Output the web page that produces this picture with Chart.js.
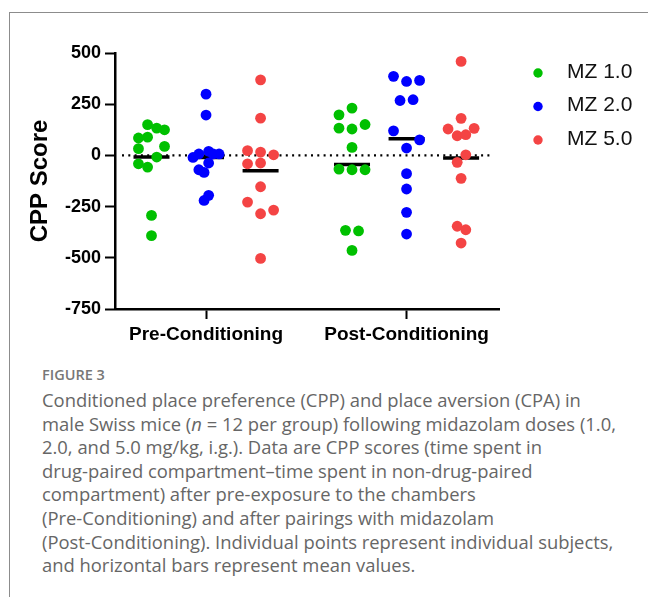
<!DOCTYPE html>
<html>
<head>
<meta charset="utf-8">
<script src="https://cdn.jsdelivr.net/npm/chart.js@4.4.1/dist/chart.umd.min.js"></script>
<style>
    body {
        margin: 0;
        background: #fff;
        width: 648px;
        height: 597px;
        overflow: hidden;
        position: relative;
    }
    #frame {
        position: absolute;
        left: 9px;
        top: 12px;
        width: 700px;
        height: 700px;
        border-left: 1px solid #8c8c8c;
        border-top: 1px solid #8c8c8c;
    }
    #wrap {
        position: absolute;
        left: 0;
        top: 0;
        width: 648px;
        height: 360px;
    }
    #caption {
        position: absolute;
        left: 42px;
        top: 364px;
        width: 606px;
        font-family: "Open Sans", "Noto Sans", sans-serif;
        color: #666;
        white-space: nowrap;
    }
    #caption .fig {
        font-size: 14.5px;
        font-weight: 600;
        line-height: 22px;
        color: #777;
    }
    #caption .text {
        font-size: 18.4px;
        line-height: 23.6px;
        margin-top: 2px;
    }
</style>
</head>
<body>
<div id="frame"></div>
<div id="wrap"><canvas id="cppChart"></canvas></div>
<div id="caption">
    <div class="fig">FIGURE 3</div>
    <div class="text">Conditioned place preference (CPP) and place aversion (CPA) in<br>male Swiss mice (<i>n</i> = 12 per group) following midazolam doses (1.0,<br>2.0, and 5.0 mg/kg, i.g.). Data are CPP scores (time spent in<br>drug-paired compartment–time spent in non-drug-paired<br>compartment) after pre-exposure to the chambers<br>(Pre-Conditioning) and after pairings with midazolam<br>(Post-Conditioning). Individual points represent individual subjects,<br>and horizontal bars represent mean values.</div>
</div>
<script>
// kategori dan nama seri
const categories = ["Pre-Conditioning", "Post-Conditioning"];
const seriesNames = ["MZ 1.0", "MZ 2.0", "MZ 5.0"];
const seriesColors = ["#00c000", "#0000ff", "#f44444"];

// skor CPP per tikus
const mz1Pre = [150, 133, 125, 85, 89, 33, 44, -8, -41, -57, -293, -392];
const mz2Pre = [299, 197, -10, 7, 20, 7, 7, -37, -70, -83, -195, -220];
const mz5Pre = [369, 182, 23, 16, 3, -41, -37, -153, -228, -267, -285, -503];
const mz1Post = [231, 198, 133, 129, 151, 39, -67, -70, -70, -366, -369, -464];
const mz2Post = [386, 361, 366, 268, 272, 120, 76, 36, -89, -164, -278, -384];
const mz5Post = [459, 181, 129, 132, 96, 101, 3, -34, -112, -346, -363, -428];

// geseran horizontal tiap titik (satuan lebar sebaran)
const mz1PreShift = [-0.3, 0.4, 1, -1, -0.3, -1, 1, 0.4, -1, -0.3, 0, 0];
const mz2PreShift = [0, 0, -1, -0.55, 0.2, 0.55, 1, 0.2, -0.55, -0.15, 0.2, -0.15];
const mz5PreShift = [0, 0, -1, 0, 1, -1, 0, 0, -1, 1, 0, 0];
const mz1PostShift = [0, -1, -1, 0, 1, 0, -1, 0, 1, -0.5, 0.5, 0];
const mz2PostShift = [-1, 0, 1, -0.5, 0.5, -1, 1, 0, 0, 0, 0, 0];
const mz5PostShift = [0, 0, -1, 1, -0.3, 0.36, 0.36, -0.3, 0, -0.3, 0.36, 0];

// nilai rata-rata (garis hitam)
const meansPre = [-8, -10, -75];
const meansPost = [-44, 81, -13];

const spread = 0.065;
const groupGap = 0.272;

const preValues = [mz1Pre, mz2Pre, mz5Pre];
const postValues = [mz1Post, mz2Post, mz5Post];
const preShifts = [mz1PreShift, mz2PreShift, mz5PreShift];
const postShifts = [mz1PostShift, mz2PostShift, mz5PostShift];

const toPoints = (values, shifts, center) =>
    values.map((v, i) => ({ x: center + shifts[i] * spread, y: v }));

const datasets = seriesNames.map((name, s) => {
    const off = (s - 1) * groupGap;
    return {
        label: name,
        data: toPoints(preValues[s], preShifts[s], 1 + off).concat(
            toPoints(postValues[s], postShifts[s], 2 + off)
        ),
        backgroundColor: seriesColors[s],
        borderWidth: 0,
        pointRadius: 5.4,
        order: 1,
    };
});

const meanPoints = [];
seriesNames.forEach((name, s) => {
    const off = (s - 1) * groupGap;
    meanPoints.push({ x: 1 + off, y: meansPre[s] });
    meanPoints.push({ x: 2 + off, y: meansPost[s] });
});
datasets.push({
    label: "mean",
    data: meanPoints,
    pointStyle: "line",
    pointRadius: 18,
    borderColor: "#000",
    pointBorderWidth: 3.5,
    order: 2,
});

// garis putus-putus di nol
const zeroLinePlugin = {
    id: "zeroLine",
    beforeDatasetsDraw: (chart) => {
        const { ctx, chartArea, scales } = chart;
        const y = scales.y.getPixelForValue(0);
        ctx.save();
        ctx.strokeStyle = "#000";
        ctx.lineWidth = 2.2;
        ctx.setLineDash([2, 4.3]);
        ctx.beginPath();
        ctx.moveTo(chartArea.left + 7, y);
        ctx.lineTo(chartArea.right - 7, y);
        ctx.stroke();
        ctx.restore();
    },
};

// legenda di kanan
const legendPlugin = {
    id: "sideLegend",
    afterDraw: (chart) => {
        const { ctx } = chart;
        ctx.save();
        chart.data.datasets.forEach((ds, i) => {
            if (ds.label === "mean") return;
            const y = 72 + i * 33.5;
            ctx.fillStyle = ds.backgroundColor;
            ctx.beginPath();
            ctx.arc(538, y + 1, 4.7, 0, Math.PI * 2);
            ctx.fill();
            ctx.fillStyle = "#111";
            ctx.font = "21px 'Liberation Sans', Arial, sans-serif";
            ctx.textBaseline = "middle";
            ctx.fillText(ds.label, 567, y);
        });
        ctx.restore();
    },
};

const axisFont = "'Liberation Sans', Arial, sans-serif";

new Chart(document.getElementById("cppChart"), {
    type: "scatter",
    data: { datasets: datasets },
    options: {
        responsive: true,
        maintainAspectRatio: false,
        animation: false,
        layout: { padding: { left: 0, top: 53, right: 149, bottom: 0 } },
        plugins: {
            legend: { display: false },
            tooltip: { enabled: false },
        },
        scales: {
            x: {
                type: "linear",
                min: 0.546,
                max: 2.461,
                afterBuildTicks: (scale) => {
                    scale.ticks = [{ value: 1 }, { value: 2 }];
                },
                afterFit: (scale) => {
                    scale.height = 51;
                },
                ticks: {
                    callback: (v) => categories[Math.round(v) - 1],
                    font: { family: axisFont, size: 19, weight: "bold" },
                    color: "#000",
                    padding: 4,
                    maxRotation: 0,
                },
                grid: {
                    drawOnChartArea: false,
                    drawTicks: true,
                    tickLength: 10,
                    tickWidth: 2,
                    tickColor: "#000",
                },
                border: { color: "#000", width: 2.5 },
            },
            y: {
                min: -750,
                max: 500,
                afterFit: (scale) => {
                    scale.width = 115;
                },
                ticks: {
                    stepSize: 250,
                    font: { family: axisFont, size: 18, weight: "bold" },
                    color: "#000",
                    padding: 4,
                },
                grid: {
                    drawOnChartArea: false,
                    drawTicks: true,
                    tickLength: 10,
                    tickWidth: 2,
                    tickColor: "#000",
                },
                border: { color: "#000", width: 2.5 },
                title: {
                    display: true,
                    text: "CPP Score",
                    font: { family: axisFont, size: 24, weight: "bold" },
                    color: "#000",
                    padding: { top: 25.5, bottom: 0 },
                },
            },
        },
    },
    plugins: [zeroLinePlugin, legendPlugin],
});
</script>
</body>
</html>
